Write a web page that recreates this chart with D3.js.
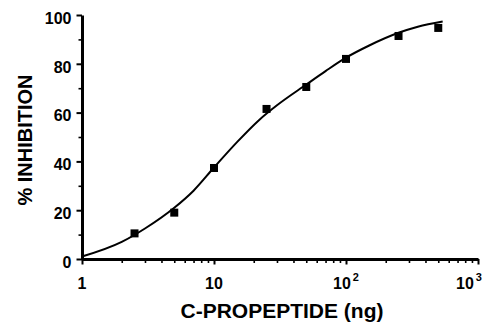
<!DOCTYPE html>
<html>
<head>
  <script src="https://cdn.jsdelivr.net/npm/d3@7"></script>
  <style>
    body { margin: 0; background: #fff; }
    text { font-family: "Liberation Sans", Arial, Helvetica, sans-serif; font-weight: bold; fill: #000; }
    .axis path, .axis line { stroke: #000; }
  </style>
</head>
<body>
  <svg id="chart" width="492" height="322"></svg>
  <script>
    // measured points
    var conc = [2.5, 5, 10, 25, 50, 100, 250, 500];
    var inhibition = [10.5, 19, 37.3, 61.5, 70.5, 82, 91.4, 94.7];

    // fitted curve
    var fitConc = [1, 2, 3, 5, 7, 10, 15, 22, 30, 50, 70, 100, 150, 250, 350, 540];
    var fitInhibition = [1, 7, 12.5, 21, 28, 37.5, 48, 57, 63, 71.5, 77, 82.5, 87.5, 92.7, 95.2, 97.3];

    var yTicks = [0, 20, 40, 60, 80, 100];
    var yMinor = [10, 30, 50, 70, 90];
    var xTicks = [1, 10, 100, 1000];
    var xTickLabels = [['1', ''], ['10', ''], ['10', '2'], ['10', '3']];

    var x = d3.scaleLog().domain([1, 1000]).range([82, 478]);
    var y = d3.scaleLinear().domain([0, 100]).range([259, 15]);

    var svg = d3.select('#chart');

    var xMinor = [];
    [1, 10, 100].forEach(function (d) {
      for (var k = 2; k <= 9; k++) xMinor.push(d * k);
    });

    // minor ticks
    svg.append('g')
      .attr('class', 'axis')
      .attr('transform', 'translate(0,' + y(0) + ')')
      .call(d3.axisBottom(x).tickValues(xMinor).tickSize(4).tickSizeOuter(0).tickFormat(''))
      .call(g => g.select('.domain').remove())
      .selectAll('line').attr('stroke-width', 1.6);

    svg.append('g')
      .attr('class', 'axis')
      .attr('transform', 'translate(' + x(1) + ',0)')
      .call(d3.axisLeft(y).tickValues(yMinor).tickSize(3.5).tickSizeOuter(0).tickFormat(''))
      .call(g => g.select('.domain').remove())
      .selectAll('line').attr('stroke-width', 1.6);

    // major ticks + axis lines
    var xAxis = svg.append('g')
      .attr('class', 'axis')
      .attr('transform', 'translate(0,' + y(0) + ')')
      .call(d3.axisBottom(x).tickValues(xTicks).tickSize(5.5).tickSizeOuter(0).tickFormat(''));
    xAxis.select('.domain').attr('stroke-width', 3);
    xAxis.selectAll('line').attr('stroke-width', 2);

    var yAxis = svg.append('g')
      .attr('class', 'axis')
      .attr('transform', 'translate(' + x(1) + ',0)')
      .call(d3.axisLeft(y).tickValues(yTicks).tickSize(5.5).tickSizeOuter(0).tickPadding(5));
    yAxis.select('.domain').attr('stroke-width', 3);
    yAxis.selectAll('line').attr('stroke-width', 2);
    yAxis.selectAll('text')
      .attr('font-size', 16)
      .attr('dy', '0.52em')
      .attr('font-family', null);

    // x tick labels with superscripts
    var xl = svg.append('g');
    xTicks.forEach(function (v, i) {
      var lab = xTickLabels[i];
      var t = xl.append('text')
        .attr('x', x(v))
        .attr('y', 289)
        .attr('font-size', 16)
        .attr('text-anchor', 'middle');
      if (i == xTicks.length - 1) t.attr('dx', -9);
      t.append('tspan').text(lab[0]);
      if (lab[1]) {
        t.append('tspan').attr('font-size', 11).attr('dy', -8).attr('dx', 2).text(lab[1]);
      }
    });

    // fitted curve
    var line = d3.line()
      .x(d => x(d[0]))
      .y(d => y(d[1]))
      .curve(d3.curveMonotoneX);

    svg.append('path')
      .datum(fitConc.map((c, i) => [c, fitInhibition[i]]))
      .attr('d', line)
      .attr('fill', 'none')
      .attr('stroke', '#000')
      .attr('stroke-width', 2);

    // points
    svg.selectAll('rect.pt')
      .data(conc.map((c, i) => [c, inhibition[i]]))
      .enter()
      .append('rect')
      .attr('class', 'pt')
      .attr('x', d => x(d[0]) - 4)
      .attr('y', d => y(d[1]) - 4)
      .attr('width', 8)
      .attr('height', 8)
      .attr('fill', '#000');

    // axis titles
    svg.append('text')
      .attr('x', 282)
      .attr('y', 318)
      .attr('text-anchor', 'middle')
      .attr('font-size', 21)
      .text('C-PROPEPTIDE (ng)');

    svg.append('text')
      .attr('transform', 'translate(32,140) rotate(-90)')
      .attr('text-anchor', 'middle')
      .attr('font-size', 20)
      .text('% INHIBITION');
  </script>
</body>
</html>
